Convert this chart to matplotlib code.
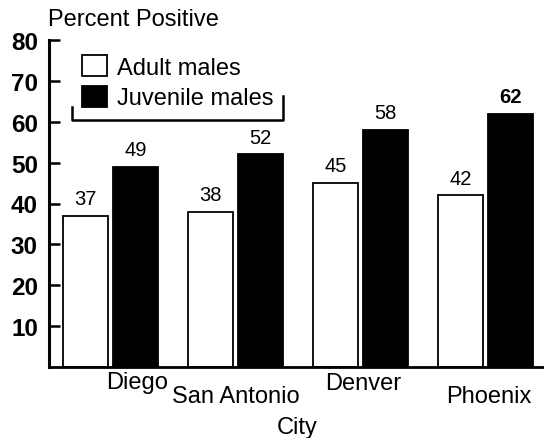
import matplotlib.pyplot as plt
import numpy as np

plt.rcParams['font.family'] = ['Liberation Sans', 'DejaVu Sans']

# datos
ciudades = ['Diego', 'San Antonio', 'Denver', 'Phoenix']
adultos = [37, 38, 45, 42]
juveniles = [49, 52, 58, 62]
ticks_y = [10, 20, 30, 40, 50, 60, 70, 80]

fig = plt.figure(figsize=(5.44, 4.39), dpi=100)
ax = fig.add_axes([49 / 544, 71 / 439, 495 / 544, 327 / 439])

x = np.arange(len(ciudades))
ancho = 0.36
b1 = ax.bar(x - 0.2, adultos, ancho, color='white', edgecolor='black', linewidth=1.3, label='Adult males')
b2 = ax.bar(x + 0.2, juveniles, ancho, color='black', edgecolor='black', linewidth=1.3, label='Juvenile males')

# etiquetas de valor
for rect, v in zip(b1, adultos):
    ax.annotate(str(v), (rect.get_x() + rect.get_width() / 2, v), xytext=(0, 5.5),
                textcoords='offset points', ha='center', va='bottom', fontsize=14.5)
for rect, v in zip(b2, juveniles):
    ax.annotate(str(v), (rect.get_x() + rect.get_width() / 2, v), xytext=(0, 5.5),
                textcoords='offset points', ha='center', va='bottom', fontsize=14.5,
                weight='bold' if v == max(juveniles) else 'normal')

ax.set_xlim(-0.492, 3.468)
ax.set_ylim(0, 80)
ax.set_yticks(ticks_y)
ax.set_yticklabels([str(t) for t in ticks_y], fontsize=17.5, weight='bold')
ax.tick_params(axis='y', direction='in', length=8, width=1.8, pad=8)
ax.set_xticks([])

for s in ['top', 'right']:
    ax.spines[s].set_visible(False)
ax.spines['left'].set_linewidth(2.2)
ax.spines['bottom'].set_linewidth(2.0)

# nombres de ciudades escalonados
desplaz = [0.216, 0.0, 0.02, 0.03]
altura = [-0.045, -0.09, -0.05, -0.09]
for i, nombre in enumerate(ciudades):
    ax.text(x[i] + desplaz[i], altura[i], nombre, transform=ax.get_xaxis_transform(),
            ha='center', va='center', fontsize=17)

fig.text(297 / 544, 1 - 428 / 439, 'City', ha='center', va='center', fontsize=17)
fig.text(48 / 544, 1 - 20 / 439, 'Percent Positive', ha='left', va='center', fontsize=17)

# leyenda con corchete
leg = ax.legend(loc='upper left', bbox_to_anchor=(82 / 544, 1 - 56 / 439),
                bbox_transform=fig.transFigure, frameon=False, fontsize=17,
                handlelength=1.05, handleheight=1.0, handletextpad=0.42,
                labelspacing=0.3, borderpad=0, borderaxespad=0)

ax.plot([0.046, 0.046, 0.473, 0.473], [0.795, 0.755, 0.755, 0.829], color='black',
        linewidth=1.8, transform=ax.transAxes, clip_on=False)

fig.savefig('out.png', dpi=100)
